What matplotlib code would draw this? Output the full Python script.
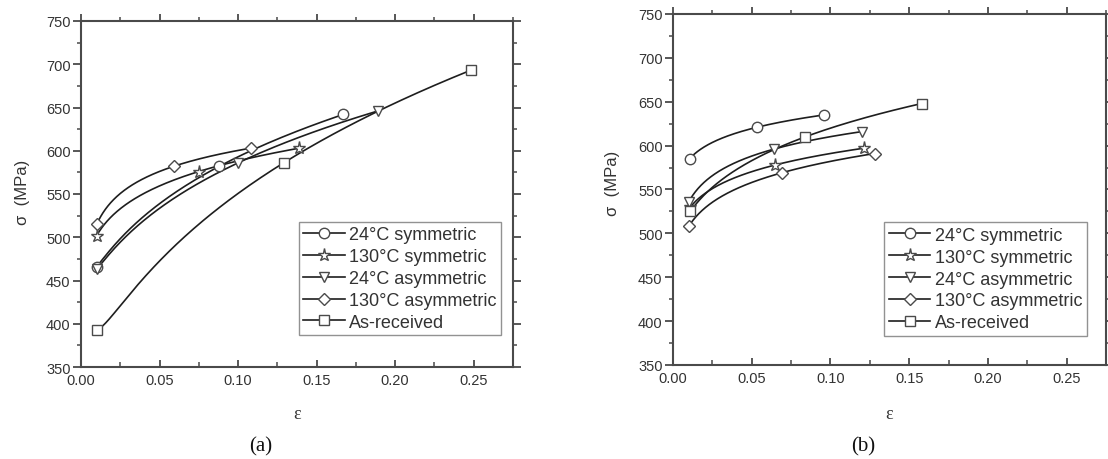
import numpy as np
import matplotlib
matplotlib.use("Agg")
import matplotlib.pyplot as plt
from matplotlib.lines import Line2D
from matplotlib.ticker import MultipleLocator, FormatStrFormatter

plt.rcParams['font.family'] = ['Liberation Sans', 'DejaVu Sans']

labels = ['24°C symmetric', '130°C symmetric', '24°C asymmetric',
          '130°C asymmetric', 'As-received']
markers = ['o', '*', 'v', 'D', 's']
msizes = [7.5, 9.5, 7.5, 6.2, 7]

# panel (a)
a_eps = [[0.010, 0.088, 0.167],
         [0.010, 0.075, 0.139],
         [0.010, 0.100, 0.189],
         [0.010, 0.059, 0.108],
         [0.010, 0.129, 0.248]]
a_sig = [[466, 582, 642],
         [502, 576, 603],
         [463, 586, 646],
         [515, 582, 603],
         [393, 586, 693]]

# panel (b)
b_eps = [[0.0105, 0.0535, 0.096],
         [0.011, 0.065, 0.121],
         [0.010, 0.064, 0.120],
         [0.010, 0.069, 0.128],
         [0.011, 0.084, 0.158]]
b_sig = [[585, 621, 635],
         [530, 578, 597],
         [536, 596, 616],
         [508, 569, 591],
         [525, 610, 648]]

line_c = '#1e1e1e'
edge_c = '#4a4a4a'
text_c = '#333333'

fig = plt.figure(figsize=(11.08, 4.6), dpi=100)
W, H = 1108, 460


def add_panel(box, eps, sig, leg_box, ylab_xy, xlab_y, tag, tag_x):
    l, t, r, b = box
    ax = fig.add_axes([l / W, 1 - b / H, (r - l) / W, (b - t) / H])
    for xs, ys, m, ms in zip(eps, sig, markers, msizes):
        # smooth connecting curve: quadratic in log(strain)
        c = np.polyfit(np.log(xs), ys, 2)
        xx = np.geomspace(xs[0], xs[-1], 200)
        ax.plot(xx, np.polyval(c, np.log(xx)), color=line_c, lw=1.2, zorder=2)
        ax.plot(xs, ys, ls='none', marker=m, ms=ms, mfc='white',
                mec=edge_c, mew=1.0, zorder=3)

    ax.set_xlim(0, 0.275)
    ax.set_ylim(350, 750)
    ax.xaxis.set_major_locator(MultipleLocator(0.05))
    ax.xaxis.set_minor_locator(MultipleLocator(0.025))
    ax.yaxis.set_major_locator(MultipleLocator(50))
    ax.yaxis.set_minor_locator(MultipleLocator(25))
    ax.xaxis.set_major_formatter(FormatStrFormatter('%.2f'))
    ax.tick_params(axis='x', which='both', direction='in', bottom=True, top=False,
                   colors=edge_c, labelcolor=text_c, labelsize=10.5, pad=4)
    ax.tick_params(axis='x', which='major', length=5, width=1.3)
    ax.tick_params(axis='x', which='minor', length=3.5, width=1.1)
    ax.tick_params(axis='y', which='both', direction='out', left=True, right=True,
                   colors=edge_c, labelcolor=text_c, labelsize=10.5, pad=1.5)
    ax.tick_params(axis='y', which='major', length=6, width=1.3)
    ax.tick_params(axis='y', which='minor', length=3, width=1.1)

    sec = ax.secondary_xaxis('top')
    sec.xaxis.set_major_locator(MultipleLocator(0.05))
    sec.xaxis.set_minor_locator(MultipleLocator(0.025))
    sec.tick_params(which='both', direction='out', labeltop=False, colors=edge_c)
    sec.tick_params(which='major', length=5, width=1.3)
    sec.tick_params(which='minor', length=3, width=1.1)
    sec.spines['top'].set_visible(False)

    for s in ax.spines.values():
        s.set_color(edge_c)
        s.set_linewidth(1.5)

    ax.set_ylabel('σ  (MPa)', fontsize=12, color=text_c, va='center')
    ax.yaxis.set_label_coords((ylab_xy[0] - l) / (r - l), (b - ylab_xy[1]) / (b - t))
    ax.set_xlabel('ε', fontsize=13, color=text_c, va='center',
                  family=['Liberation Serif', 'DejaVu Serif'])
    ax.xaxis.set_label_coords(0.5, (b - xlab_y) / (b - t))

    handles = [Line2D([], [], color=line_c, lw=1.2, marker=m, ms=ms, mfc='white',
                      mec=edge_c, mew=1.0) for m, ms in zip(markers, msizes)]
    leg = ax.legend(handles, labels, loc='upper left',
                    bbox_to_anchor=(leg_box[0] / W, 1 - leg_box[1] / H),
                    bbox_transform=fig.transFigure, fontsize=13, frameon=True,
                    fancybox=False, edgecolor='#777777', borderaxespad=0,
                    borderpad=0.25, labelspacing=0.27, handlelength=2.3,
                    handletextpad=0.25, labelcolor=text_c)
    leg.get_frame().set_linewidth(1.0)

    fig.text(tag_x / W, 1 - 447 / H, tag, ha='center', va='center', fontsize=15,
             family=['Liberation Serif', 'DejaVu Serif'], color='#111111')
    return ax


add_panel((81, 22, 513, 368), a_eps, a_sig, (298.6, 222.7), (22, 192), 415, '(a)', 261)
add_panel((673, 15, 1106, 366), b_eps, b_sig, (884.4, 223.3), (613, 183), 415, '(b)', 863)

plt.savefig('out.png', dpi=100)
